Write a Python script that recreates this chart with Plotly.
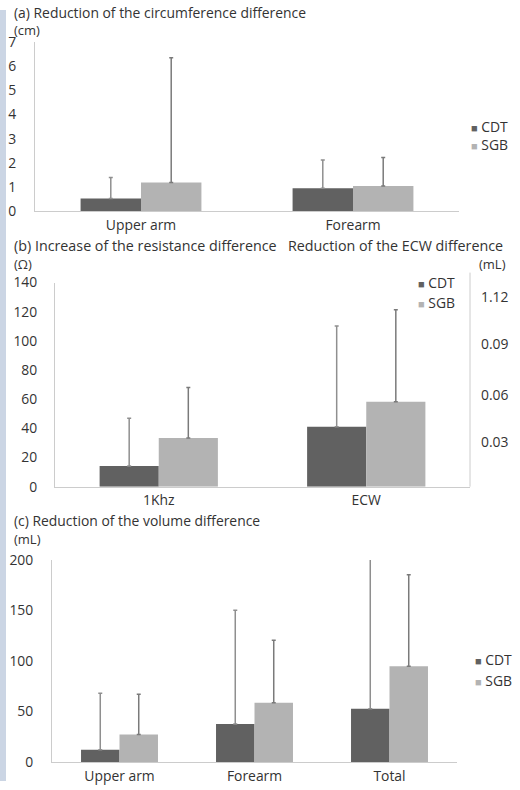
import plotly.graph_objects as go

W, H = 520, 790

# the photographed page shows the figure slightly squeezed vertically
# (picture_y = 8.8 + 0.977 * figure_y); place everything accordingly
Y_OFF, Y_K = 8.8, 0.977


def px_x(v):
    return v / W


def px_y(v):
    f = (v - Y_OFF) / Y_K
    return 1 - f / H


# ---------------- data ----------------
# (a) circumference difference (cm)
cat_a = ["Upper arm", "Forearm"]
cdt_a = [0.52, 0.94]
cdt_a_sd = [0.87, 1.17]
sgb_a = [1.18, 1.04]
sgb_a_sd = [5.17, 1.18]

# (b) resistance / ECW difference
cat_b = ["1Khz", "ECW"]
cdt_b = [14.2, 41.1]
cdt_b_sd = [32.8, 69.2]
sgb_b = [33.4, 58.2]
sgb_b_sd = [34.6, 63.2]
right_tick_pos = [30.3, 62.5, 97.7, 130.0]
right_tick_text = ["0.03", "0.06", "0.09", "1.12"]

# (c) volume difference (mL)
cat_c = ["Upper arm", "Forearm", "Total"]
cdt_c = [12.3, 37.6, 52.8]
cdt_c_sd = [55.9, 112.6, 160.0]
sgb_c = [27.4, 58.7, 94.9]
sgb_c_sd = [39.8, 61.9, 90.3]

# ---------------- style ----------------
FONT = "Open Sans"
FS = 13.9
TXT = "#333333"
CDT_COL = "#616161"
SGB_COL = "#b3b3b3"
CDT_ERR = "#8f8f8f"
SGB_ERR = "#7a7a7a"
AX_COL = "#cccccc"
STRIP = "#cbd5e4"

fig = go.Figure()


def add_pair(cats, c, csd, s, ssd, xa, ya):
    fig.add_trace(go.Bar(
        x=cats, y=c, name="CDT", marker=dict(color=CDT_COL, line=dict(width=0)),
        error_y=dict(type="data", array=csd, arrayminus=[0] * len(c), symmetric=False,
                     color=CDT_ERR, thickness=1.5, width=2),
        xaxis=xa, yaxis=ya, showlegend=False, hoverinfo="x+y"))
    fig.add_trace(go.Bar(
        x=cats, y=s, name="SGB", marker=dict(color=SGB_COL, line=dict(width=0)),
        error_y=dict(type="data", array=ssd, arrayminus=[0] * len(s), symmetric=False,
                     color=SGB_ERR, thickness=1.5, width=2),
        xaxis=xa, yaxis=ya, showlegend=False, hoverinfo="x+y"))


add_pair(cat_a, cdt_a, cdt_a_sd, sgb_a, sgb_a_sd, "x", "y")
add_pair(cat_b, cdt_b, cdt_b_sd, sgb_b, sgb_b_sd, "x2", "y2")
add_pair(cat_c, cdt_c, cdt_c_sd, sgb_c, sgb_c_sd, "x3", "y3")

tickfont = dict(family=FONT, size=FS, color=TXT)


def xax(x0, x1, anchor):
    return dict(domain=[px_x(x0), px_x(x1)], anchor=anchor, showline=True,
                linecolor=AX_COL, linewidth=1, ticks="", showgrid=False,
                zeroline=False, tickfont=tickfont, ticklabelstandoff=1)


def yax(y_top, y_bot, rng, dtick, anchor, standoff):
    return dict(domain=[px_y(y_bot), px_y(y_top)], anchor=anchor, range=rng,
                dtick=dtick, showline=True, linecolor=AX_COL, linewidth=1,
                ticks="", showgrid=False, zeroline=False, tickfont=tickfont,
                ticklabelstandoff=standoff)


fig.update_layout(
    width=W, height=H,
    margin=dict(l=0, r=0, t=0, b=0),
    paper_bgcolor="white", plot_bgcolor="white",
    barmode="group", bargap=0.43, bargroupgap=0,
    font=dict(family=FONT, size=FS, color=TXT),
    xaxis=xax(35, 459, "y"),
    yaxis=yax(41, 210, [0, 7], 1, "x", 15),
    xaxis2=xax(55, 470, "y2"),
    yaxis2=yax(281.7, 486, [0, 140], 20, "x2", 14),
    yaxis4=dict(overlaying="y2", side="right", anchor="x2", range=[0, 140],
                tickvals=right_tick_pos, ticktext=right_tick_text, showline=False,
                ticks="", showgrid=False, zeroline=False, tickfont=tickfont,
                ticklabelstandoff=10),
    xaxis3=xax(52, 457, "y3"),
    yaxis3=yax(559.3, 761.7, [0, 200], 50, "x3", 15),
    showlegend=False,
)

# invisible trace that activates the right-hand axis of panel (b)
fig.add_trace(go.Scatter(x=cat_b, y=[None, None], xaxis="x2", yaxis="y4",
                         showlegend=False, hoverinfo="skip"))

shapes = [
    dict(type="rect", xref="paper", yref="paper", x0=0, x1=px_x(6), y0=0, y1=1,
         fillcolor=STRIP, line=dict(width=0), layer="below"),
    dict(type="line", xref="paper", yref="paper", x0=px_x(470), x1=px_x(470),
         y0=px_y(486), y1=px_y(271.7), line=dict(color=AX_COL, width=1)),
]
fig.update_layout(shapes=shapes)


def note(text, x, y, xanchor="left", size=FS):
    return dict(text=text, x=px_x(x), y=px_y(y), xref="paper", yref="paper",
                xanchor=xanchor, yanchor="middle", showarrow=False, borderpad=0,
                font=dict(family=FONT, size=size, color=TXT))


def legend_notes(x, y1, y2):
    return [
        note(f"<span style='color:{CDT_COL};font-size:11px'>■</span> CDT", x, y1),
        note(f"<span style='color:{SGB_COL};font-size:11px'>■</span> SGB", x, y2),
    ]


UNIT_FS = 13
annotations = [
    note("(a) Reduction of the circumference difference", 13, 11),
    note("(cm)", 13, 28.5, size=UNIT_FS),
    note("(b) Increase of the resistance difference", 13, 245, size=14.3),
    note("Reduction of the ECW difference", 287, 245, size=14.3),
    note("(Ω)", 13, 263, size=UNIT_FS),
    note("(mL)", 507, 263, xanchor="right", size=UNIT_FS),
    note("(c) Reduction of the volume difference", 13, 520),
    note("(mL)", 13, 538, size=UNIT_FS),
]
annotations += legend_notes(470, 125, 143)
annotations += legend_notes(417, 282, 302)
annotations += legend_notes(474, 659, 680)
fig.update_layout(annotations=annotations)

css_fix = (
    "var s=document.createElement('style');"
    "s.textContent='html,body{margin:0!important;padding:0!important;overflow:hidden!important;"
    "background:linear-gradient(to right," + STRIP + " 0px," + STRIP + " 6px,#ffffff 6px)!important;}"
    "body>div{margin:0!important;padding:0!important;}';"
    "document.head.appendChild(s);"
)
fig.write_html("out.html", config={"displayModeBar": False}, post_script=css_fix)
